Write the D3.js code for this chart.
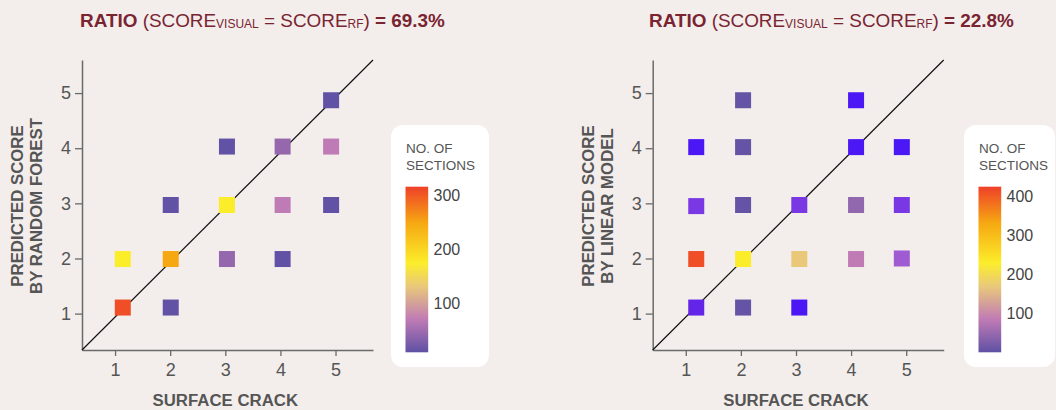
<!DOCTYPE html>
<html><head><meta charset="utf-8">
<script src="https://cdn.jsdelivr.net/npm/d3@7"></script>
<style>
html,body{margin:0;padding:0;background:#f3eeeb;}
svg{display:block;font-family:"Liberation Sans",Arial,sans-serif;}
</style></head><body>
<svg id="c" width="1056" height="410"></svg>
<script>
// ---------- data ----------
const tickValues = [1, 2, 3, 4, 5];
// Random forest chart (left)
const rfX     = [1.14, 2.01, 1.14, 2.01, 3.03, 4.04, 2.01, 3.03, 4.04, 4.92, 3.03, 4.04, 4.92, 4.92];
const rfY     = [1.11, 1.11, 1.99, 1.99, 1.99, 1.99, 2.97, 2.97, 2.97, 2.97, 4.03, 4.03, 4.03, 4.87];
const rfCount = [308, 12, 176, 249, 44, 12, 12, 176, 71, 12, 12, 44, 71, 12];
const rfLegendTicks = [100, 200, 300];
const rfRange = [10, 317];
// Linear model chart (right)
const lmX     = [1.19, 2.04, 3.06, 1.19, 2.04, 3.06, 4.09, 4.92, 1.19, 2.04, 3.06, 4.09, 4.92, 1.19, 2.04, 4.09, 4.92, 2.04, 4.09];
const lmY     = [1.11, 1.11, 1.11, 1.99, 1.99, 1.99, 1.99, 2.00, 2.95, 2.97, 2.97, 2.97, 2.97, 4.02, 4.02, 4.02, 4.02, 4.87, 4.87];
const lmCount = [2, 5, 1, 411, 229, 170, 85, 4, 3, 5, 3, 44, 3, 1, 5, 1, 1, 5, 1];
const lmLegendTicks = [100, 200, 300, 400];
const lmRange = [0, 424];
// colour ramp
const rampT = [0, 0.2, 0.4, 0.54, 0.78, 1];
const rampColors = ["#5f51a4", "#c07bb5", "#e9c97a", "#fced2b", "#f6a812", "#ef4029"];
const lowValues = [1, 2, 3, 4];
const lowColors = ["#4b18f5", "#6325e8", "#7a38e5", "#a05ad2"];

const titles = [
  {pre: "RATIO", val: "69.3%"},
  {pre: "RATIO", val: "22.8%"}
];

// ---------- drawing ----------
const svg = d3.select("#c");
const titleColor = "#7a2432";
const axisColor = "#6a6a6a";
const textColor = "#555";

const ramp = d3.scaleLinear().domain(rampT).range(rampColors).clamp(true);
const lowScale = d3.scaleLinear().domain(lowValues).range(lowColors).clamp(true);

const defs = svg.append("defs");
const grad = defs.append("linearGradient").attr("id", "ramp")
  .attr("x1", 0).attr("y1", 1).attr("x2", 0).attr("y2", 0);
rampT.forEach((t, i) => grad.append("stop").attr("offset", t).attr("stop-color", rampColors[i]));

function panel(cfg) {
  const g = svg.append("g");
  const x = d3.scaleLinear().domain([0.4, 5.68]).range([cfg.x0, cfg.x0 + 291]);
  const y = d3.scaleLinear().domain([0.34, 5.6]).range([350, 60]);

  // title
  const t = g.append("text").attr("x", cfg.titleX).attr("y", 27)
    .attr("fill", titleColor).style("font-size", "18.9px");
  t.append("tspan").attr("font-weight", "bold").text(cfg.title.pre + " ");
  t.append("tspan").text("(SCORE");
  t.append("tspan").style("font-size", "12px").attr("dy", 0.7).text("VISUAL");
  t.append("tspan").attr("dy", -0.7).text(" = SCORE");
  t.append("tspan").style("font-size", "12px").attr("dy", 0.7).text("RF");
  t.append("tspan").attr("dy", -0.7).text(")");
  t.append("tspan").attr("font-weight", "bold").text(" = " + cfg.title.val);

  // axes
  const fmt = d3.format("d");
  const xa = g.append("g").attr("transform", "translate(0,350)")
    .call(d3.axisBottom(x).tickValues(tickValues).tickFormat(fmt).tickSize(6).tickPadding(5).tickSizeOuter(0));
  const ya = g.append("g").attr("transform", `translate(${cfg.x0},0)`)
    .call(d3.axisLeft(y).tickValues(tickValues).tickFormat(fmt).tickSize(7).tickPadding(4).tickSizeOuter(0));
  [xa, ya].forEach(a => {
    a.select(".domain").attr("stroke", axisColor).attr("stroke-width", 1.5);
    a.selectAll(".tick line").attr("stroke", axisColor).attr("stroke-width", 1.3);
    a.selectAll(".tick text").attr("fill", textColor).style("font-size", "18px")
      .style("font-family", "Liberation Sans, Arial, sans-serif");
  });
  xa.selectAll(".tick text").attr("dy", "0.85em");

  // diagonal
  g.append("line")
    .attr("x1", x(0.4)).attr("y1", y(0.34)).attr("x2", x(5.68)).attr("y2", y(5.6))
    .attr("stroke", "#111").attr("stroke-width", 1.2);

  // squares
  const s = 16;
  const color = v => v <= 4 && cfg.low ? lowScale(v) : ramp((v - cfg.range[0]) / (cfg.range[1] - cfg.range[0]));
  g.selectAll("rect.sq").data(cfg.count).join("rect").attr("class", "sq")
    .attr("x", (d, i) => x(cfg.xs[i]) - s / 2)
    .attr("y", (d, i) => y(cfg.ys[i]) - s / 2)
    .attr("width", s).attr("height", s)
    .attr("fill", d => color(d));

  // axis titles
  g.append("text").attr("x", x(3)).attr("y", 406).attr("text-anchor", "middle")
    .attr("fill", textColor).attr("font-weight", "bold").style("font-size", "16.8px")
    .text("SURFACE CRACK");
  const yt = g.append("text").attr("transform", `translate(${cfg.ytX},206) rotate(-90)`)
    .attr("text-anchor", "middle").attr("fill", textColor).attr("font-weight", "bold")
    .style("font-size", "16.8px");
  yt.append("tspan").attr("x", 0).attr("y", 0).text("PREDICTED SCORE");
  yt.append("tspan").attr("x", 0).attr("y", 19).text(cfg.ytitle2);

  // legend
  const lg = g.append("g");
  lg.append("rect").attr("x", cfg.lx).attr("y", 125).attr("width", cfg.lw).attr("height", 242)
    .attr("rx", 12).attr("fill", "#fff");
  const lt = lg.append("text").attr("fill", textColor).style("font-size", "13.5px");
  lt.append("tspan").attr("x", cfg.lx + 15).attr("y", 153).text("NO. OF");
  lt.append("tspan").attr("x", cfg.lx + 15).attr("y", 170).text("SECTIONS");
  const bx = cfg.lx + 14.5, by0 = 186.7, by1 = 352.3;
  lg.append("rect").attr("x", bx).attr("y", by0).attr("width", 22.7).attr("height", by1 - by0)
    .attr("fill", "url(#ramp)");
  const ls = d3.scaleLinear().domain(cfg.range).range([by1, by0]);
  lg.selectAll("text.lt").data(cfg.legendTicks).join("text").attr("class", "lt")
    .attr("x", bx + 28).attr("y", d => ls(d)).attr("dy", "0.35em")
    .attr("fill", "#444").style("font-size", "16px").text(d => d);
}

panel({x0: 82, titleX: 80, title: titles[0], xs: rfX, ys: rfY, count: rfCount, range: rfRange,
  legendTicks: rfLegendTicks, low: false, lx: 391, lw: 98, ytX: 23, ytitle2: "BY RANDOM FOREST"});
panel({x0: 652.7, titleX: 649, title: titles[1], xs: lmX, ys: lmY, count: lmCount, range: lmRange,
  legendTicks: lmLegendTicks, low: true, lx: 964, lw: 91, ytX: 594, ytitle2: "BY LINEAR MODEL"});
</script>
</body></html>
